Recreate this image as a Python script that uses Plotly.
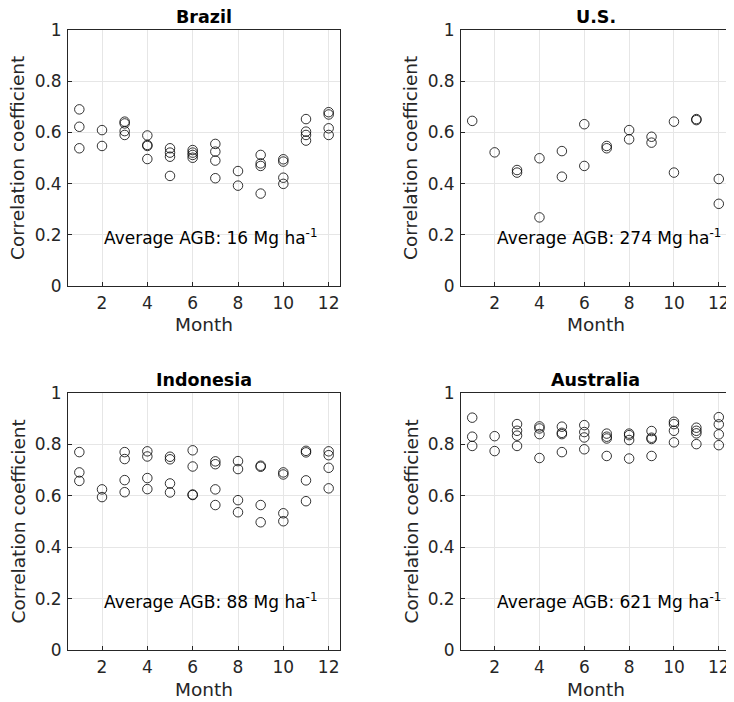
import plotly.graph_objects as go

months = list(range(1, 13))

brazil = {
    1: [0.69, 0.622, 0.538],
    2: [0.609, 0.547],
    3: [0.642, 0.635, 0.605, 0.59],
    4: [0.588, 0.551, 0.547, 0.496],
    5: [0.538, 0.521, 0.505, 0.43],
    6: [0.531, 0.521, 0.512, 0.501],
    7: [0.555, 0.525, 0.49, 0.421],
    8: [0.449, 0.392],
    9: [0.512, 0.479, 0.469, 0.361],
    10: [0.495, 0.486, 0.423, 0.399],
    11: [0.652, 0.603, 0.59, 0.568],
    12: [0.679, 0.67, 0.616, 0.59],
}
us = {
    1: [0.645],
    2: [0.522],
    3: [0.453, 0.443],
    4: [0.499, 0.268],
    5: [0.527, 0.427],
    6: [0.632, 0.469],
    7: [0.547, 0.538],
    8: [0.609, 0.573],
    9: [0.583, 0.56],
    10: [0.642, 0.443],
    11: [0.652, 0.648],
    12: [0.418, 0.321],
}
indonesia = {
    1: [0.770, 0.691, 0.658],
    2: [0.625, 0.595],
    3: [0.770, 0.743, 0.661, 0.614],
    4: [0.773, 0.753, 0.669, 0.626],
    5: [0.752, 0.742, 0.648, 0.613],
    6: [0.777, 0.714, 0.605, 0.603],
    7: [0.734, 0.723, 0.625, 0.564],
    8: [0.735, 0.704, 0.583, 0.536],
    9: [0.717, 0.713, 0.564, 0.497],
    10: [0.691, 0.683, 0.532, 0.501],
    11: [0.775, 0.769, 0.66, 0.579],
    12: [0.773, 0.758, 0.709, 0.629],
}
australia = {
    1: [0.904, 0.83, 0.794],
    2: [0.832, 0.774],
    3: [0.879, 0.853, 0.834, 0.794],
    4: [0.870, 0.862, 0.840, 0.747],
    5: [0.869, 0.845, 0.840, 0.770],
    6: [0.875, 0.848, 0.827, 0.781],
    7: [0.842, 0.830, 0.823, 0.755],
    8: [0.842, 0.836, 0.817, 0.745],
    9: [0.852, 0.826, 0.821, 0.755],
    10: [0.888, 0.879, 0.853, 0.808],
    11: [0.865, 0.853, 0.843, 0.801],
    12: [0.906, 0.878, 0.839, 0.797],
}

panels = [
    ("Brazil", brazil, "16"),
    ("U.S.", us, "274"),
    ("Indonesia", indonesia, "88"),
    ("Australia", australia, "621"),
]

x_ticks = [2, 4, 6, 8, 10, 12]
y_ticks = [0, 0.2, 0.4, 0.6, 0.8, 1]
y_ticklabels = ["0", "0.2", "0.4", "0.6", "0.8", "1"]

# page body has an 8px margin; figure sized so it ends at the window edge
W, H = 726, 694
xdoms = [[60 / W, 332 / W], [453 / W, 722 / W]]
ydoms = [[1 - 278 / H, 1 - 22 / H], [1 - 642 / H, 1 - 385 / H]]

FONT = "DejaVu Sans"
TXT = "#262626"

fig = go.Figure()
layout = dict(
    width=W, height=H,
    margin=dict(l=0, r=0, t=0, b=0, autoexpand=False),
    paper_bgcolor="white", plot_bgcolor="white",
    showlegend=False,
    font=dict(family=FONT, color=TXT, size=14),
)
annotations = []

for i, (name, data, agb) in enumerate(panels):
    r, c = divmod(i, 2)
    idx = "" if i == 0 else str(i + 1)
    xs, ys = [], []
    for m in months:
        for v in data[m]:
            xs.append(m)
            ys.append(v)
    fig.add_trace(go.Scatter(
        x=xs, y=ys, mode="markers",
        marker=dict(symbol="circle-open", size=9.5, color="black", line=dict(width=0.8)),
        xaxis="x" + idx, yaxis="y" + idx,
    ))
    layout["xaxis" + idx] = dict(
        domain=xdoms[c], range=[0.5, 12.5], anchor="y" + idx, automargin=False,
        tickvals=x_ticks, ticks="inside", ticklen=4, tickcolor=TXT,
        showline=True, linecolor=TXT, linewidth=0.8, mirror=True,
        showgrid=True, gridcolor="#e6e6e6", gridwidth=1, zeroline=False,
        tickfont=dict(size=17, color=TXT), ticklabelstandoff=2,
    )
    layout["yaxis" + idx] = dict(
        domain=ydoms[r], range=[0, 1], anchor="x" + idx, automargin=False,
        tickvals=y_ticks, ticktext=y_ticklabels, ticks="inside", ticklen=4, tickcolor=TXT,
        showline=True, linecolor=TXT, linewidth=0.8, mirror=True,
        showgrid=True, gridcolor="#e6e6e6", gridwidth=1, zeroline=False,
        tickfont=dict(size=17, color=TXT), ticklabelstandoff=2,
    )
    # panel title
    annotations.append(dict(
        text="<b>" + name + "</b>", x=0.5, y=1, xref="x" + idx + " domain", yref="y" + idx + " domain",
        xanchor="center", yanchor="bottom", yshift=1, showarrow=False,
        font=dict(size=17.5, color="black", family=FONT),
    ))
    # x axis title
    annotations.append(dict(
        text="Month", x=0.5, y=0, xref="x" + idx + " domain", yref="y" + idx + " domain",
        xanchor="center", yanchor="middle", yshift=-39, showarrow=False,
        font=dict(size=18.5, color=TXT, family=FONT),
    ))
    # y axis title
    annotations.append(dict(
        text="Correlation coefficient", x=(xdoms[c][0] * W - 50) / W, y=0.5,
        xref="paper", yref="y" + idx + " domain",
        xanchor="center", yanchor="middle", textangle=-90, showarrow=False,
        font=dict(size=18.5, color=TXT, family=FONT),
    ))
    # in-panel label
    annotations.append(dict(
        text="Average AGB: " + agb + " Mg ha<sup>-1</sup>", x=2, y=0.19,
        xref="x" + idx, yref="y" + idx, xanchor="left", yanchor="middle", showarrow=False,
        font=dict(size=17, color="black", family=FONT),
    ))

layout["annotations"] = annotations
fig.update_layout(**layout)
fig.write_html("out.html")
